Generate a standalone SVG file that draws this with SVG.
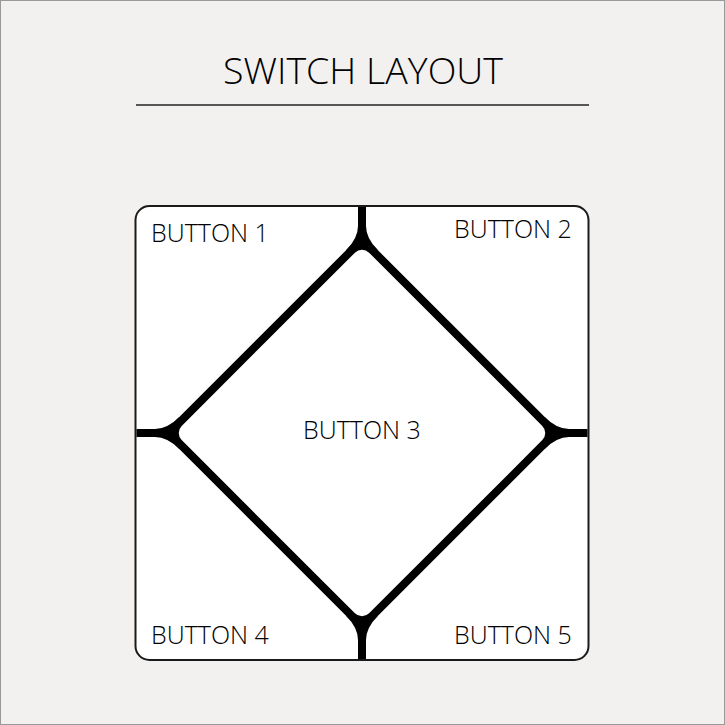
<svg xmlns="http://www.w3.org/2000/svg" width="725" height="725" viewBox="0 0 725 725">
<style>
.lbl{font-family:"Open Sans","Noto Sans","Liberation Sans",sans-serif;font-weight:300;font-size:25px;fill:#000}
.title{font-family:"Open Sans","Noto Sans","Liberation Sans",sans-serif;font-weight:300;font-size:37.5px;fill:#000}
.bar{stroke:#000;stroke-width:8;fill:none}
.fil{fill:#000;stroke:none}
</style>
<rect x="0.5" y="0.5" width="724" height="724" fill="#f2f1ef" stroke="#999" stroke-width="1"/>
<g id="title">
<text class="title" x="363" y="84" text-anchor="middle">SWITCH LAYOUT</text>
<line x1="136" y1="105" x2="589" y2="105" stroke="#222" stroke-width="1.5"/>
</g>
<g id="frame">
<rect x="135.5" y="206" width="453" height="454" rx="14" fill="#fff" stroke="#1a1a1a" stroke-width="2"/>
</g>
<g id="connectors">
<rect x="225.5" y="296.5" width="273" height="273" rx="14" transform="rotate(45 362 433)" class="bar"/>
<line x1="362" y1="207" x2="362" y2="246" class="bar"/>
<line x1="362" y1="620" x2="362" y2="659" class="bar"/>
<line x1="136.5" y1="433" x2="175" y2="433" class="bar"/>
<line x1="549" y1="433" x2="587.5" y2="433" class="bar"/>
<path class="fil" d="M358,226 Q358,238.3 346,250.3 L362,244 L378,250.3 Q366,238.3 366,226 Z"/>
<path class="fil" d="M358,640 Q358,627.7 346,615.7 L362,622 L378,615.7 Q366,627.7 366,640 Z"/>
<path class="fil" d="M155,429 Q167.3,429 179.3,417 L173,433 L179.3,449 Q167.3,437 155,437 Z"/>
<path class="fil" d="M569,429 Q556.7,429 544.7,417 L551,433 L544.7,449 Q556.7,437 569,437 Z"/>
</g>
<g id="button1"><text class="lbl" x="151" y="242">BUTTON 1</text></g>
<g id="button2"><text class="lbl" x="454" y="238">BUTTON 2</text></g>
<g id="button3"><text class="lbl" x="303" y="439">BUTTON 3</text></g>
<g id="button4"><text class="lbl" x="151" y="644">BUTTON 4</text></g>
<g id="button5"><text class="lbl" x="454" y="644">BUTTON 5</text></g>
</svg>
